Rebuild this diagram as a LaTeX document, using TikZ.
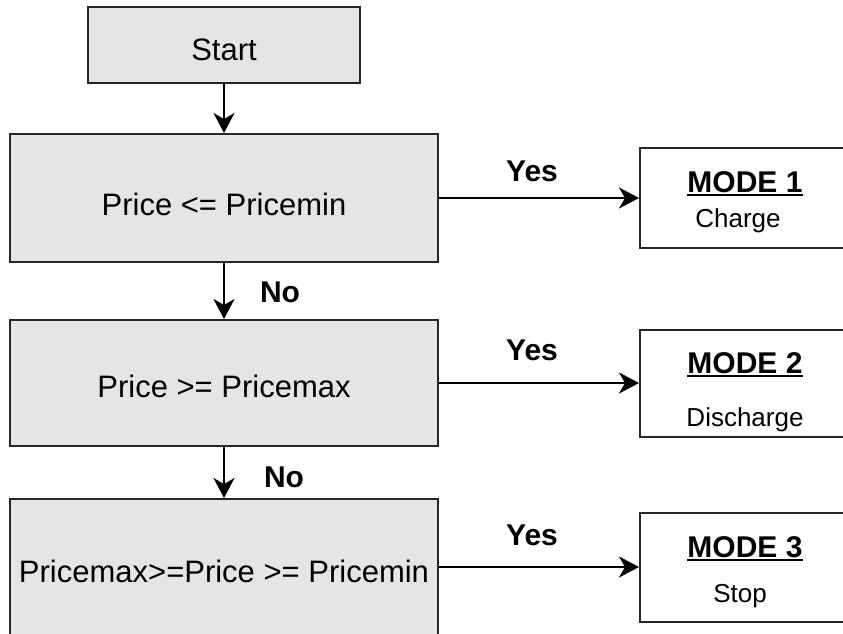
\documentclass[tikz,border=0pt]{standalone}
\usepackage{fontspec}
\setmainfont{Liberation Sans}
\usetikzlibrary{arrows.meta}

% underline with a rule that scales with the large type
\newcommand\modeline[1]{\begingroup\setbox0\hbox{#1}\rlap{\rule[-4pt]{\wd0}{1.8pt}}\box0\endgroup}

\tikzset{
  procbox/.style={draw=black!85, line width=2pt, fill=black!10, inner sep=0pt},
  modebox/.style={draw=black!85, line width=2pt, fill=white, inner sep=0pt,
                  minimum width=210pt},
  maintext/.style={anchor=base, inner sep=0pt, font=\fontsize{31}{37}\selectfont},
  subtext/.style={anchor=base, inner sep=0pt, font=\fontsize{26}{31}\selectfont},
  boldtext/.style={anchor=base, inner sep=0pt, font=\fontsize{30}{36}\selectfont\bfseries},
  flow/.style={line width=2pt, -{Stealth[length=20pt,width=21pt,inset=6pt]}},
}

\begin{document}
\begin{tikzpicture}[x=1pt, y=-1pt]
  \clip (0,0) rectangle (843,634);
  \useasboundingbox (0,0) rectangle (843,634);

  % decision chain
  \node[procbox, minimum width=272pt, minimum height=76pt]  (start) at (224,45)  {};
  \node[procbox, minimum width=428pt, minimum height=128pt] (c1)    at (224,198) {};
  \node[procbox, minimum width=428pt, minimum height=126pt] (c2)    at (224,383) {};
  \node[procbox, minimum width=428pt, minimum height=142pt] (c3)    at (224,570) {};

  \node[maintext] (tstart) at (224,61)  {Start};
  \node[maintext] (tc1)    at (224,215) {Price <= Pricemin};
  \node[maintext] (tc2)    at (224,397) {Price >= Pricemax};
  \node[maintext] (tc3)    at (224,582) {Pricemax>=Price >= Pricemin};

  % operating modes
  \node[modebox, minimum height=100pt] (m1) at (745,198) {};
  \node[modebox, minimum height=107pt] (m2) at (745,383) {};
  \node[modebox, minimum height=109pt] (m3) at (745,567) {};

  \node[boldtext] (tm1) at (745,192) {\modeline{MODE 1}};
  \node[subtext]  (sm1) at (738,227) {Charge};
  \node[boldtext] (tm2) at (745,373) {\modeline{MODE 2}};
  \node[subtext]  (sm2) at (745,426) {Discharge};
  \node[boldtext] (tm3) at (745,557) {\modeline{MODE 3}};
  \node[subtext]  (sm3) at (740,602) {Stop};

  % connectors
  \draw[flow] (start.south) -- (c1.north);
  \draw[flow] (c1.south) -- (c2.north);
  \draw[flow] (c2.south) -- (c3.north);
  \draw[flow] (m1.west -| c1.east) -- (m1.west);
  \draw[flow] (m2.west -| c2.east) -- (m2.west);
  \draw[flow] (m3.west -| c3.east) -- (m3.west);

  % branch labels
  \node[boldtext] (no1)  at (280,302) {No};
  \node[boldtext] (no2)  at (284,487) {No};
  \node[boldtext] (yes1) at (532,181) {Yes};
  \node[boldtext] (yes2) at (532,360) {Yes};
  \node[boldtext] (yes3) at (532,545) {Yes};
\end{tikzpicture}
\end{document}
